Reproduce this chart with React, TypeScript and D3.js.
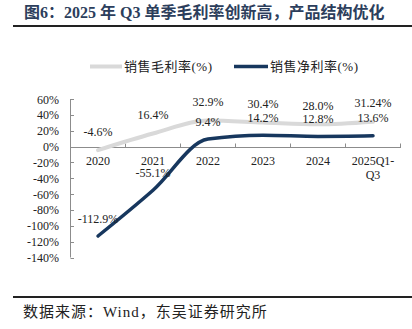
import React from "react";
import * as d3 from "d3";

const categories = ["2020", "2021", "2022", "2023", "2024", "2025Q1-\nQ3"];
const grossMargin = [-4.6, 16.4, 32.9, 30.4, 28.0, 31.24];
const grossLabels = ["-4.6%", "16.4%", "32.9%", "30.4%", "28.0%", "31.24%"];
const netMargin = [-112.9, -55.1, 9.4, 14.2, 12.8, 13.6];
const netLabels = ["-112.9%", "-55.1%", "9.4%", "14.2%", "12.8%", "13.6%"];
const yTicks = [60, 40, 20, 0, -20, -40, -60, -80, -100, -120, -140];
const seriesNames = ["销售毛利率(%)", "销售净利率(%)"];

const W = 412, H = 329;
const FONT = "'Liberation Serif', 'Times New Roman', 'Noto Sans CJK SC', serif";
const GRAY = "#d9d9d9";
const NAVY = "#17375e";
const AXIS = "#8c8c8c";

export default function App() {
  const x = d3.scaleBand<string>().domain(categories).range([70.5, 400.5]);
  const y = d3.scaleLinear().domain([-140, 60]).range([257.5, 99]);
  const cx = (i: number) => (x(categories[i]) as number) + x.bandwidth() / 2;
  const line = d3
    .line<number>()
    .x((_, i) => cx(i))
    .y((d) => y(d))
    .curve(d3.curveMonotoneX);
  const y0 = Math.round(y(0)) + 0.5;

  return (
    <div style={{ position: "fixed", left: 0, top: 0 }}>
      <svg width={W} height={H} style={{ display: "block", background: "#fff" }}>
        <text x={24} y={18} fontSize={16} fontWeight="bold" fill="#2c3e5c" fontFamily={FONT}>
          图6：2025 年 Q3 单季毛利率创新高，产品结构优化
        </text>
        <line x1={13} x2={412} y1={26} y2={26} stroke="#222" strokeWidth={2} />

        {/* legend */}
        <line x1={90} x2={122} y1={66.5} y2={66.5} stroke={GRAY} strokeWidth={4} />
        <text x={124} y={71} fontSize={13} letterSpacing={0.5} fill="#222" fontFamily={FONT}>{seriesNames[0]}</text>
        <line x1={234} x2={268} y1={66.5} y2={66.5} stroke={NAVY} strokeWidth={3.5} />
        <text x={270} y={71} fontSize={13} letterSpacing={0.5} fill="#222" fontFamily={FONT}>{seriesNames[1]}</text>

        {/* y axis */}
        <line x1={70.5} x2={70.5} y1={y(60)} y2={y(-140)} stroke={AXIS} strokeWidth={1} />
        {yTicks.map((t) => (
          <g key={t}>
            <line x1={70.5} x2={74} y1={Math.round(y(t)) + 0.5} y2={Math.round(y(t)) + 0.5} stroke={AXIS} />
            <text x={59} y={y(t) + 4.5} fontSize={12} textAnchor="end" fill="#222" fontFamily={FONT}>
              {t}%
            </text>
          </g>
        ))}

        {/* x axis */}
        <line x1={70.5} x2={401} y1={y0} y2={y0} stroke={AXIS} />
        {categories.map((c, i) => (
          <line
            key={"t" + i}
            x1={(x(c) as number) + x.bandwidth()}
            x2={(x(c) as number) + x.bandwidth()}
            y1={y0 - 4}
            y2={y0}
            stroke={AXIS}
          />
        ))}
        {categories.map((c, i) => (
          <text key={"c" + i} x={cx(i)} y={165} fontSize={12} textAnchor="middle" fill="#222" fontFamily={FONT}>
            {c.split("\n").map((s, k) => (
              <tspan key={k} x={cx(i)} dy={k === 0 ? 0 : 14}>{s}</tspan>
            ))}
          </text>
        ))}

        {/* series */}
        <path d={line(grossMargin) || ""} fill="none" stroke={GRAY} strokeWidth={4} strokeLinecap="round" />
        <path d={line(netMargin) || ""} fill="none" stroke={NAVY} strokeWidth={3.5} strokeLinecap="round" />

        {grossMargin.map((v, i) => (
          <text key={"g" + i} x={cx(i)} y={y(v) - 14.5} fontSize={12} textAnchor="middle" fill="#222" fontFamily={FONT}>
            {grossLabels[i]}
          </text>
        ))}
        {netMargin.map((v, i) => (
          <text key={"n" + i} x={cx(i)} y={y(v) - 13.5} fontSize={12} textAnchor="middle" fill="#222" fontFamily={FONT}>
            {netLabels[i]}
          </text>
        ))}

        {/* source */}
        <line x1={13} x2={412} y1={297} y2={297} stroke="#222" strokeWidth={2} />
        <text x={23} y={317} fontSize={15} letterSpacing={1} fill="#222" fontFamily={FONT}>
          数据来源：Wind，东吴证券研究所
        </text>
      </svg>
    </div>
  );
}
